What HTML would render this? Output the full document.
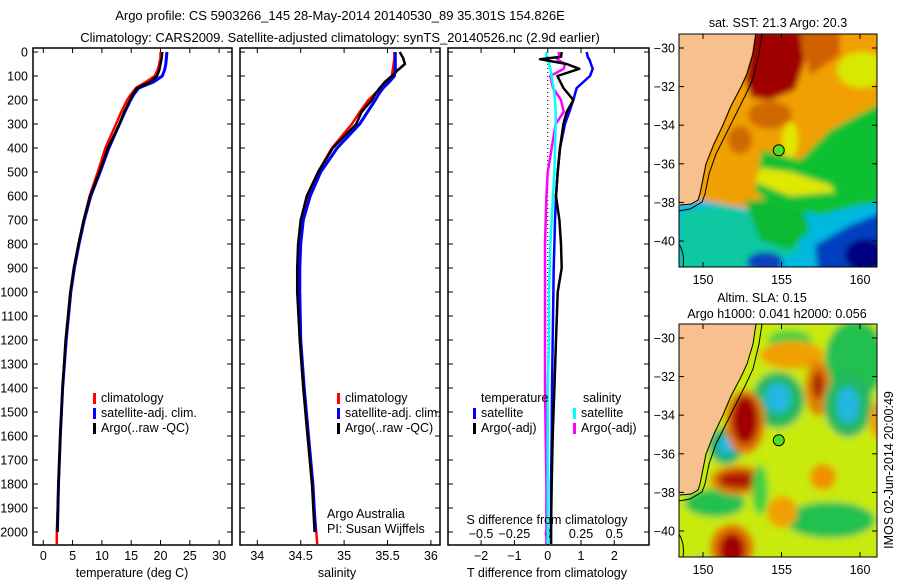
<!DOCTYPE html>
<html><head><meta charset="utf-8"><style>
body{margin:0;background:#fff;}
svg{display:block;font-family:"Liberation Sans",sans-serif;}
text{fill:#000;}
</style></head><body>
<svg id="fig" width="900" height="580" viewBox="0 0 900 580" xmlns="http://www.w3.org/2000/svg">
<text x="340" y="20" font-size="13" text-anchor="middle">Argo profile: CS 5903266_145 28-May-2014 20140530_89 35.301S 154.826E</text>
<text x="340" y="42" font-size="13" text-anchor="middle">Climatology: CARS2009. Satellite-adjusted climatology: synTS_20140526.nc (2.9d earlier)</text>
<g id="maps"></g>
<g id="plots"></g>
</svg>
<script>
// ---- data ----
const depths = [0,25,50,75,100,125,150,175,200,250,300,400,500,600,700,800,900,1000,1200,1400,1600,1800,2000,2050];
const tempClim = [20.0,20.0,19.8,19.5,19.0,17.5,15.8,15.0,14.3,13.3,12.4,10.6,9.3,7.9,6.9,6.0,5.3,4.7,3.9,3.3,2.9,2.6,2.3,2.3];
const tempSat  = [21.1,21.0,20.9,20.7,20.3,18.8,16.3,15.5,14.9,13.9,13.0,11.2,9.7,8.1,7.0,6.1,5.3,4.7,3.9,3.3,2.9,2.6,2.4];
const tempArgo = [20.3,20.2,20.0,19.8,19.4,18.2,16.0,15.3,14.8,13.8,13.0,11.0,9.6,8.0,6.9,6.0,5.2,4.6,3.8,3.3,2.9,2.6,2.4];
const salClim = [35.58,35.58,35.57,35.56,35.55,35.48,35.42,35.35,35.28,35.18,35.09,34.86,34.70,34.58,34.53,34.49,34.47,34.47,34.49,34.53,34.58,34.63,34.68,34.69];
const salSat  = [35.59,35.59,35.59,35.59,35.58,35.52,35.45,35.40,35.36,35.27,35.18,34.92,34.73,34.61,34.53,34.50,34.49,34.49,34.50,34.54,34.59,34.64,34.67];
const salArgo = [35.64,35.68,35.70,35.62,35.55,35.47,35.41,35.36,35.32,35.20,35.14,34.87,34.70,34.57,34.50,34.47,34.46,34.46,34.49,34.53,34.58,34.63,34.66];
const diffDepths = [0,20,30,50,70,100,150,200,250,300,400,500,600,700,800,900,1000,1200,1400,1600,1800,2000,2050];
const tDiffSat  = [1.17,1.2,1.25,1.3,1.35,1.27,0.87,0.77,0.65,0.52,0.37,0.3,0.25,0.22,0.2,0.18,0.17,0.15,0.13,0.12,0.1,0.1,0.1];
const tDiffArgo = [0.42,0.4,-0.23,0.57,0.95,0.29,0.47,0.77,0.57,0.47,0.37,0.3,0.25,0.35,0.4,0.42,0.3,0.25,0.2,0.15,0.12,0.1,0.1];
const sDiffSat  = [-0.01,-0.01,0.0,0.01,0.02,0.03,0.045,0.055,0.06,0.06,0.055,0.05,0.04,0.03,0.02,0.015,0.01,0.01,0.0,0.0,0.0,0.0,0.0];
const sDiffArgo = [0.08,0.09,0.07,0.13,0.12,0.02,0.04,0.10,0.12,0.06,0.03,0.0,-0.01,-0.015,-0.02,-0.02,-0.02,-0.02,-0.02,-0.015,-0.01,-0.01,-0.01];
const depthTicks = [0,100,200,300,400,500,600,700,800,900,1000,1100,1200,1300,1400,1500,1600,1700,1800,1900,2000];
const tempTicks = [0,5,10,15,20,25,30];
const salTicks = [34,34.5,35,35.5,36];
const salTickLabels = ["34","34.5","35","35.5","36"];
const tDiffTicks = [-2,-1,0,1,2];
const sDiffTicks = [-0.5,-0.25,0,0.25,0.5];
const sDiffTickLabels = ["\u22120.5","\u22120.25","0","0.25","0.5"];
const latTicks = [-30,-32,-34,-36,-38,-40];
const lonTicks = [150,155,160];

const NS="http://www.w3.org/2000/svg";
function mk(parent,tag,attrs,txt){const e=document.createElementNS(NS,tag);for(const k in attrs)e.setAttribute(k,attrs[k]);if(txt!==undefined)e.textContent=txt;parent.appendChild(e);return e;}
const plots=document.getElementById('plots');
const Y0=52, PY=0.24;
const yD=d=>Y0+d*PY;
const TOP=48, BOT=545;
const xT=t=>43.3+5.86*t;
const xS=s=>257.3+86.8*(s-34);
const xTd=t=>547.7+33.3*t;
const xSd=s=>547.7+133.3*s;

function frame(x0,x1,name){
  const r=mk(plots,'rect',{x:x0,y:TOP,width:x1-x0,height:BOT-TOP,fill:'none',stroke:'#000','stroke-width':1.5});
  
  
}
function yTicks(x0,x1,labels){
  depthTicks.forEach(d=>{
    const y=yD(d);
    mk(plots,'line',{x1:x0,y1:y,x2:x0+5,y2:y,stroke:'#000'});
    mk(plots,'line',{x1:x1-5,y1:y,x2:x1,y2:y,stroke:'#000'});
    if(labels){const t=mk(plots,'text',{x:28,y:y+4.5,'font-size':12.5,'text-anchor':'end'},String(d));
      
      }
  });
}
function xTicks(vals,fx,labels,ly){
  vals.forEach((v,i)=>{
    const x=fx(v);
    mk(plots,'line',{x1:x,y1:BOT,x2:x,y2:BOT-5,stroke:'#000'});
    mk(plots,'line',{x1:x,y1:TOP,x2:x,y2:TOP+5,stroke:'#000'});
    if(labels){const t=mk(plots,'text',{x:x,y:ly,'font-size':12.5,'text-anchor':'middle'},labels[i]);
      
      }
  });
}
function line(xs,ds,fx,color,w,name){
  const pts=xs.map((v,i)=>fx(v).toFixed(1)+','+yD(ds[i]).toFixed(1)).join(' ');
  const p=mk(plots,'polyline',{points:pts,fill:'none',stroke:color,'stroke-width':w,'stroke-linejoin':'round'});
  
  
}
function legend(x,y,color,label,name){
  mk(plots,'rect',{x:x,y:y-9,width:3,height:11,fill:color});
  const t=mk(plots,'text',{x:x+8,y:y,'font-size':12.5},label);
  
  
}
function label(x,y,txt,name,anchor){
  const t=mk(plots,'text',{x:x,y:y,'font-size':12.5,'text-anchor':anchor||'middle'},txt);
  
  
}

frame(33,232,'temperature-panel');
yTicks(33,232,true);
xTicks(tempTicks,xT,tempTicks.map(String),560);
line(tempClim,depths,xT,'#ff0000',2.5,'temp-climatology-line');
line(tempSat,depths,xT,'#0000ff',3,'temp-satellite-line');
line(tempArgo,depths,xT,'#000000',2.5,'temp-argo-line');
label(132,577,'temperature (deg C)','temp-x-axis-title');
legend(93,402,'#ff0000','climatology','legend-climatology');
legend(93,417,'#0000ff','satellite-adj. clim.','legend-satellite');
legend(93,432,'#000000','Argo(..raw -QC)','legend-argo');

frame(240,440,'salinity-panel');
yTicks(240,440,false);
xTicks(salTicks,xS,salTickLabels,560);
line(salClim,depths,xS,'#ff0000',2.5,'sal-climatology-line');
line(salSat,depths,xS,'#0000ff',3,'sal-satellite-line');
line(salArgo,depths,xS,'#000000',2.5,'sal-argo-line');
label(337,577,'salinity','sal-x-axis-title');
legend(337,402,'#ff0000','climatology','legend-sal-climatology');
legend(337,417,'#0000ff','satellite-adj. clim.','legend-sal-satellite');
legend(337,432,'#000000','Argo(..raw -QC)','legend-sal-argo');
label(327,518,'Argo Australia','argo-australia-label','start');
label(327,533,'PI: Susan Wijffels','pi-label','start');

frame(448,649,'difference-panel');
yTicks(448,649,false);
xTicks(tDiffTicks,xTd,tDiffTicks.map(v=>v<0?'\u2212'+(-v):String(v)),560);
sDiffTicks.forEach((v,i)=>{const x=xSd(v);
  const t=mk(plots,'text',{x:x,y:538,'font-size':12.5,'text-anchor':'middle'},sDiffTickLabels[i]);
  
  });
mk(plots,'line',{x1:xTd(0),y1:TOP,x2:xTd(0),y2:BOT,stroke:'#000','stroke-dasharray':'1,3'});
line(sDiffArgo,diffDepths,xSd,'#ff00ff',2.5,'sdiff-argo-line');
line(sDiffSat,diffDepths,xSd,'#00ffff',2.5,'sdiff-satellite-line');
line(tDiffSat,diffDepths,xTd,'#0000ff',2.5,'tdiff-satellite-line');
line(tDiffArgo,diffDepths,xTd,'#000000',2.5,'tdiff-argo-line');
label(547,524,'S difference from climatology','s-diff-axis-title');
label(547,577,'T difference from climatology','t-diff-axis-title');
label(481,402,'temperature','legend-temperature-heading','start');
legend(473,417,'#0000ff','satellite','legend-t-satellite');
legend(473,432,'#000000','Argo(-adj)','legend-t-argo');
label(583,402,'salinity','legend-salinity-heading','start');
legend(573,417,'#00ffff','satellite','legend-s-satellite');
legend(573,432,'#ff00ff','Argo(-adj)','legend-s-argo');

// ---- maps ----
const maps=document.getElementById('maps');
function mapFrame(y0,kind,blur){
  const g=mk(maps,'g',{});
  
  
  const id='clip'+kind;
  const cp=mk(g,'clipPath',{id:id});mk(cp,'rect',{x:679,y:y0,width:198,height:233});
  const fid='blur'+kind;
  const f=mk(g,'filter',{id:fid,x:'-20%',y:'-20%',width:'140%',height:'140%'});mk(f,'feGaussianBlur',{stdDeviation:blur});
  const inner=mk(g,'g',{'clip-path':'url(#'+id+')'});
  const blobs=mk(inner,'g',{filter:'url(#'+fid+')'});
  return {g,inner,blobs};
}
const lonX=lon=>703+(lon-150)*15.7;
function latY(lat,y0){return y0+14+(-30-lat)*19.3;}
function land(inner,y0){
  const d=[[679,0],[755,0],[752,20],[746,40],[740,53],[730,72],[722,91],[713,110],[705,130],[701,150],[699,160],[697,166],[690,170],[679,171]];
  mk(inner,'polygon',{points:d.map(p=>p[0]+','+(p[1]+y0)).join(' '),fill:'#f9c08f'});
  mk(inner,'polyline',{points:d.map(p=>(p[0]+1)+','+(p[1]+y0)).join(' '),fill:'none',stroke:'#000','stroke-width':1});
  const c=[[762,0],[759,20],[753,45],[745,62],[735,82],[725,102],[716,120],[709,140],[705,160],[702,168],[690,175],[679,177]];
  mk(inner,'polyline',{points:c.map(p=>p[0]+','+(p[1]+y0)).join(' '),fill:'none',stroke:'#000','stroke-width':1});
  mk(inner,'path',{d:'M679,'+(y0+210)+' Q685,'+(y0+220)+' 683,'+(y0+233),fill:'none',stroke:'#000'});
}
function mapAxes(g,y0){
  mk(g,'rect',{x:679,y:y0,width:198,height:233,fill:'none',stroke:'#000','stroke-width':1});
  latTicks.forEach(l=>{const y=latY(l,y0);
    mk(g,'line',{x1:679,y1:y,x2:684,y2:y,stroke:'#000'});mk(g,'line',{x1:872,y1:y,x2:877,y2:y,stroke:'#000'});
    const t=mk(g,'text',{x:675,y:y+4.5,'font-size':12.5,'text-anchor':'end'},'\u2212'+(-l));
    
    });
  lonTicks.forEach(l=>{const x=lonX(l);
    mk(g,'line',{x1:x,y1:y0,x2:x,y2:y0+5,stroke:'#000'});mk(g,'line',{x1:x,y1:y0+233,x2:x,y2:y0+228,stroke:'#000'});
    const t=mk(g,'text',{x:x,y:y0+250,'font-size':12.5,'text-anchor':'middle'},String(l));
    
    });
  mk(g,'circle',{cx:lonX(154.826),cy:latY(-35.301,y0),r:5.5,fill:'#55dd22',stroke:'#000'});
}
// SST map
let m=mapFrame(34,'sst',3);
let b=m.blobs;
mk(b,'rect',{x:660,y:20,width:240,height:270,fill:'#f0a000'});
mk(b,'polygon',{points:'660,205 700,200 780,215 877,200 900,200 900,290 660,290',fill:'#00b8e0'});
mk(b,'polygon',{points:'680,212 720,205 760,215 790,225 800,250 760,270 680,270',fill:'#10c8a0'});
mk(b,'polygon',{points:'745,200 800,200 810,230 790,250 760,240',fill:'#10b830'});
mk(b,'polygon',{points:'762,150 800,160 830,130 877,105 900,105 900,200 860,205 820,215 770,205 755,190',fill:'#10c030'});
mk(b,'polygon',{points:'900,205 900,290 820,290 815,245 850,225',fill:'#0040c0'});
mk(b,'ellipse',{cx:865,cy:255,rx:20,ry:16,fill:'#000080'});
mk(b,'ellipse',{cx:765,cy:262,rx:18,ry:10,fill:'#1040c0'});
mk(b,'polygon',{points:'752,30 800,30 805,60 795,90 770,100 752,98 745,80',fill:'#a00000'});
mk(b,'polygon',{points:'800,30 840,30 840,55 810,75',fill:'#d06000'});
mk(b,'ellipse',{cx:770,cy:115,rx:22,ry:14,fill:'#d06800'});
mk(b,'ellipse',{cx:740,cy:140,rx:12,ry:14,fill:'#d06800'});
mk(b,'polygon',{points:'760,168 790,172 830,185 835,192 790,196 755,182',fill:'#e0e800'});
mk(b,'ellipse',{cx:862,cy:70,rx:25,ry:18,fill:'#d8e800'});
mk(b,'ellipse',{cx:790,cy:140,rx:8,ry:18,fill:'#e0e800'});
land(m.inner,34);
mapAxes(m.g,34);
// SLA map
m=mapFrame(324,'sla',3.5);
b=m.blobs;
mk(b,'rect',{x:660,y:310,width:240,height:270,fill:'#c8ea10'});
mk(b,'ellipse',{cx:855,cy:360,rx:30,ry:40,fill:'#20c050'});
mk(b,'ellipse',{cx:790,cy:340,rx:22,ry:10,fill:'#40d040'});
mk(b,'ellipse',{cx:830,cy:520,rx:45,ry:18,fill:'#20c050'});
mk(b,'ellipse',{cx:715,cy:503,rx:30,ry:14,fill:'#20c050'});
mk(b,'ellipse',{cx:792,cy:355,rx:32,ry:14,fill:'#f0a000'});
mk(b,'ellipse',{cx:818,cy:388,rx:13,ry:28,fill:'#e08000'});
mk(b,'ellipse',{cx:818,cy:385,rx:6,ry:14,fill:'#b02000'});
mk(b,'ellipse',{cx:778,cy:400,rx:26,ry:28,fill:'#20b860'});
mk(b,'ellipse',{cx:778,cy:398,rx:13,ry:15,fill:'#20b8e0'});
mk(b,'ellipse',{cx:848,cy:405,rx:24,ry:32,fill:'#20b860'});
mk(b,'ellipse',{cx:848,cy:405,rx:11,ry:18,fill:'#20b8e0'});
mk(b,'ellipse',{cx:726,cy:446,rx:17,ry:18,fill:'#10b070'});
mk(b,'ellipse',{cx:726,cy:446,rx:8,ry:9,fill:'#20b8e0'});
mk(b,'ellipse',{cx:745,cy:422,rx:20,ry:32,fill:'#e07000'});
mk(b,'ellipse',{cx:745,cy:420,rx:13,ry:24,fill:'#a00000'});
mk(b,'ellipse',{cx:738,cy:480,rx:28,ry:15,fill:'#e08000'});
mk(b,'ellipse',{cx:738,cy:480,rx:20,ry:9,fill:'#b01800'});
mk(b,'ellipse',{cx:732,cy:548,rx:22,ry:24,fill:'#e07000'});
mk(b,'ellipse',{cx:732,cy:550,rx:13,ry:17,fill:'#a00000'});
mk(b,'ellipse',{cx:823,cy:477,rx:13,ry:13,fill:'#f09000'});
mk(b,'ellipse',{cx:782,cy:512,rx:15,ry:16,fill:'#f0a000'});
mk(b,'ellipse',{cx:878,cy:420,rx:9,ry:18,fill:'#f0a000'});
mk(b,'ellipse',{cx:700,cy:572,rx:15,ry:14,fill:'#10b890'});
mk(b,'ellipse',{cx:760,cy:490,rx:8,ry:25,fill:'#40d040'});
land(m.inner,324);
mapAxes(m.g,324);

function mtext(x,y,s,name,extra){const t=mk(maps,'text',Object.assign({x:x,y:y,'font-size':12.5,'text-anchor':'middle'},extra||{}),s);
  
  }
mtext(778,27,'sat. SST: 21.3 Argo: 20.3','sst-map-title');
mtext(762,302,'Altim. SLA: 0.15','sla-map-title-1');
mtext(777,318,'Argo h1000: 0.041 h2000: 0.056','sla-map-title-2');
mtext(893,470,'IMOS 02-Jun-2014 20:00:49','imos-timestamp',{transform:'rotate(-90 893 470)'});
</script>
</body></html>
